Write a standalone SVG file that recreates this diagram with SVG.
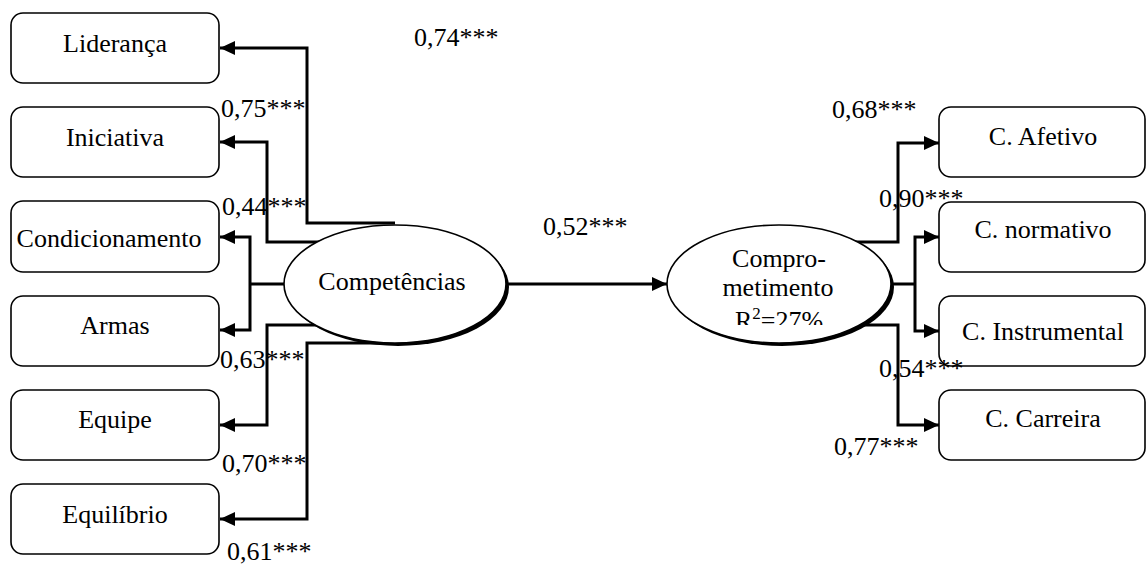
<svg xmlns="http://www.w3.org/2000/svg" width="1146" height="565" viewBox="0 0 1146 565">
  <style>
    text { font-family: "Liberation Serif", "Times New Roman", serif; font-size: 26px; fill: #000; }
    .mid { text-anchor: middle; }
    .box { fill: #fff; stroke: #000; stroke-width: 1.6; }
    .ell { fill: #fff; stroke: #000; stroke-width: 1.6; }
    .shadow { fill: #000; }
    .wire { fill: none; stroke: #000; stroke-width: 3; stroke-linejoin: miter; stroke-linecap: butt; }
  </style>
  <defs>
    <marker id="arrow" markerUnits="userSpaceOnUse" markerWidth="16" markerHeight="14" refX="15" refY="7" orient="auto">
      <path d="M0,0 L15,7 L0,14 z" fill="#000"/>
    </marker>
    <clipPath id="clipR2">
      <rect x="680" y="300" width="200" height="25"/>
    </clipPath>
  </defs>

  <rect width="1146" height="565" fill="#fff"/>

  <!-- connectors -->
  <g id="connectors">
    <path class="wire" d="M395,223 H307 V48 H220" marker-end="url(#arrow)"/>
    <path class="wire" d="M330,242 H267 V142 H220" marker-end="url(#arrow)"/>
    <path class="wire" d="M300,284 H250"/>
    <path class="wire" d="M250,284 V237 H220" marker-end="url(#arrow)"/>
    <path class="wire" d="M250,284 V330 H220" marker-end="url(#arrow)"/>
    <path class="wire" d="M330,325 H267 V425 H220" marker-end="url(#arrow)"/>
    <path class="wire" d="M395,343 H307 V519 H220" marker-end="url(#arrow)"/>
    <path class="wire" d="M506,284 H667" marker-end="url(#arrow)"/>
    <path class="wire" d="M850,242 H898 V143 H939" marker-end="url(#arrow)"/>
    <path class="wire" d="M870,284 H915"/>
    <path class="wire" d="M915,284 V237 H939" marker-end="url(#arrow)"/>
    <path class="wire" d="M915,284 V331 H939" marker-end="url(#arrow)"/>
    <path class="wire" d="M850,325 H898 V425 H939" marker-end="url(#arrow)"/>
  </g>

  <!-- indicator boxes, left -->
  <g id="lideranca">
    <rect class="box" x="11" y="13" width="208" height="70" rx="12"/>
    <text class="mid" x="115" y="52">Liderança</text>
  </g>
  <g id="iniciativa">
    <rect class="box" x="11" y="107" width="208" height="70" rx="12"/>
    <text class="mid" x="115" y="146">Iniciativa</text>
  </g>
  <g id="condicionamento">
    <rect class="box" x="11" y="201" width="208" height="71" rx="12"/>
    <text class="mid" x="109" y="247">Condicionamento</text>
  </g>
  <g id="armas">
    <rect class="box" x="11" y="296" width="208" height="70" rx="12"/>
    <text class="mid" x="115" y="334">Armas</text>
  </g>
  <g id="equipe">
    <rect class="box" x="11" y="390" width="208" height="70" rx="12"/>
    <text class="mid" x="115" y="428">Equipe</text>
  </g>
  <g id="equilibrio">
    <rect class="box" x="11" y="484" width="208" height="70" rx="12"/>
    <text class="mid" x="115" y="523">Equilíbrio</text>
  </g>

  <!-- latent constructs -->
  <g id="competencias">
    <ellipse class="shadow" cx="398" cy="287" rx="111" ry="59"/>
    <ellipse class="ell" cx="395" cy="284" rx="111" ry="59"/>
    <text class="mid" x="392" y="290">Competências</text>
  </g>
  <g id="comprometimento">
    <ellipse class="shadow" cx="782" cy="287" rx="112" ry="59"/>
    <ellipse class="ell" cx="779" cy="284" rx="112" ry="59"/>
    <text class="mid" x="779" y="267">Compro-</text>
    <text class="mid" x="778" y="296">metimento</text>
    <text class="mid" x="779" y="329" clip-path="url(#clipR2)">R<tspan dy="-10" font-size="17">2</tspan><tspan dy="10">=27%</tspan></text>
  </g>

  <!-- indicator boxes, right -->
  <g id="c-afetivo">
    <rect class="box" x="939" y="107" width="206" height="70" rx="12"/>
    <text class="mid" x="1043" y="145">C. Afetivo</text>
  </g>
  <g id="c-normativo">
    <rect class="box" x="939" y="202" width="206" height="70" rx="12"/>
    <text class="mid" x="1043" y="238">C. normativo</text>
  </g>
  <g id="c-instrumental">
    <rect class="box" x="939" y="296" width="206" height="70" rx="12"/>
    <text class="mid" x="1043" y="340">C. Instrumental</text>
  </g>
  <g id="c-carreira">
    <rect class="box" x="939" y="390" width="206" height="70" rx="12"/>
    <text class="mid" x="1043" y="427">C. Carreira</text>
  </g>

  <!-- loadings, drawn last so they sit over lines and boxes -->
  <g id="labels">
    <text x="414" y="46">0,74***</text>
    <text x="221" y="117">0,75***</text>
    <text x="222" y="215">0,44***</text>
    <text x="220" y="368">0,63***</text>
    <text x="222" y="472">0,70***</text>
    <text x="227" y="560">0,61***</text>
    <text x="543" y="235">0,52***</text>
    <text x="832" y="118">0,68***</text>
    <text x="879" y="207">0,90***</text>
    <text x="879" y="377">0,54***</text>
    <text x="834" y="455">0,77***</text>
  </g>
</svg>
